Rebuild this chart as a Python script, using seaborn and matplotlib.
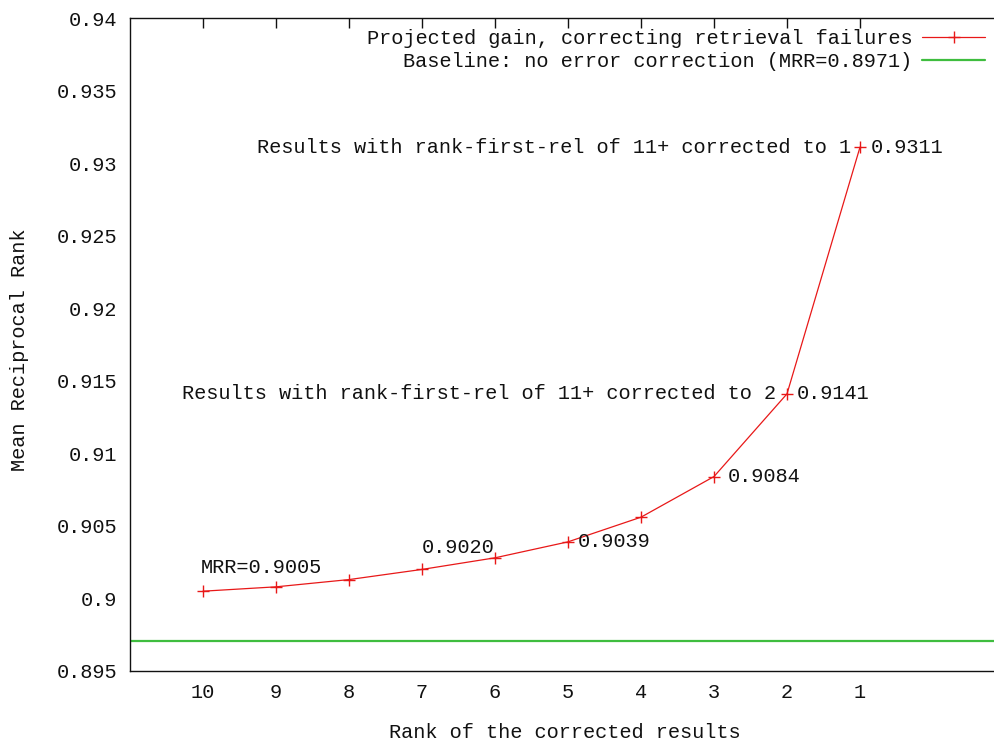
import matplotlib
matplotlib.use('Agg')
import matplotlib.pyplot as plt
import seaborn as sns
import pandas as pd

ranks = [10, 9, 8, 7, 6, 5, 4, 3, 2, 1]
mrr = [0.9005, 0.9008, 0.9013, 0.9020, 0.9028, 0.9039, 0.9056, 0.9084, 0.9141, 0.9311]
baseline = 0.8971
ytick_values = [0.895, 0.9, 0.905, 0.91, 0.915, 0.92, 0.925, 0.93, 0.935, 0.94]
ytick_labels = ['0.895', '0.9', '0.905', '0.91', '0.915', '0.92', '0.925', '0.93', '0.935', '0.94']
xtick_labels = ['10', '9', '8', '7', '6', '5', '4', '3', '2', '1']
series_label = 'Projected gain, correcting retrieval failures'
baseline_label = 'Baseline: no error correction (MRR=0.8971)'

FS = 14.55
sns.set_theme(style='white')
plt.rcParams['font.family'] = ['Liberation Mono', 'DejaVu Sans Mono']
plt.rcParams['font.size'] = FS
plt.rcParams['text.color'] = '#111111'

fig = plt.figure(figsize=(9.95, 7.44), dpi=100)
ax = fig.add_axes([130 / 995, 1 - 671 / 744, 876 / 995, (671 - 18) / 744])

df = pd.DataFrame({'rank': ranks, 'mrr': mrr})
sns.lineplot(data=df, x='rank', y='mrr', ax=ax, color='#e81818', linewidth=0.9,
             marker='+', markersize=8, markeredgewidth=1.0, markeredgecolor='#e81818',
             label=series_label)
ax.axhline(baseline, color='#3fbd3f', linewidth=1.6, label=baseline_label)

ax.set_xlim(11, -1)
ax.set_ylim(0.895, 0.94)
ax.set_xticks(ranks)
ax.set_xticklabels(xtick_labels)
ax.set_yticks(ytick_values)
ax.set_yticklabels(ytick_labels)
ax.set_xlabel('')
ax.set_ylabel('')
ax.tick_params(direction='in', length=7, width=1, top=True, right=True,
               pad=9, labelsize=FS, colors='#111111')
for s in ax.spines.values():
    s.set_color('#111111')
    s.set_linewidth(1.0)

# point labels
ax.annotate('MRR=' + f'{mrr[0]:.4f}', xy=(ranks[0], mrr[0]), xytext=(-2, 24),
            textcoords='offset pixels', ha='left', va='center', fontsize=FS)
ax.annotate(f'{mrr[3]:.4f}', xy=(ranks[3], mrr[3]), xytext=(0, 22),
            textcoords='offset pixels', ha='left', va='center', fontsize=FS)
for i, dx in [(5, 10), (7, 14), (8, 10), (9, 11)]:
    ax.annotate(f'{mrr[i]:.4f}', xy=(ranks[i], mrr[i]), xytext=(dx, 0),
                textcoords='offset pixels', ha='left', va='center', fontsize=FS)
ax.annotate('Results with rank-first-rel of 11+ corrected to 2', xy=(ranks[8], mrr[8]),
            xytext=(-11, 0), textcoords='offset pixels', ha='right', va='center', fontsize=FS)
ax.annotate('Results with rank-first-rel of 11+ corrected to 1', xy=(ranks[9], mrr[9]),
            xytext=(-9, 0), textcoords='offset pixels', ha='right', va='center', fontsize=FS)

leg = ax.legend(loc='upper right', bbox_to_anchor=(985 / 995, 1 - 29 / 744),
                bbox_transform=fig.transFigure, frameon=False, markerfirst=False,
                fontsize=FS, handlelength=3.1, handletextpad=0.5, labelspacing=0.22,
                borderaxespad=0, borderpad=0)

fig.text(20 / 995, 1 - 350 / 744, 'Mean Reciprocal Rank', rotation=90,
         ha='center', va='center', fontsize=FS)
fig.text(565 / 995, 1 - 733 / 744, 'Rank of the corrected results',
         ha='center', va='center', fontsize=FS)

fig.savefig('out.png', dpi=100)
